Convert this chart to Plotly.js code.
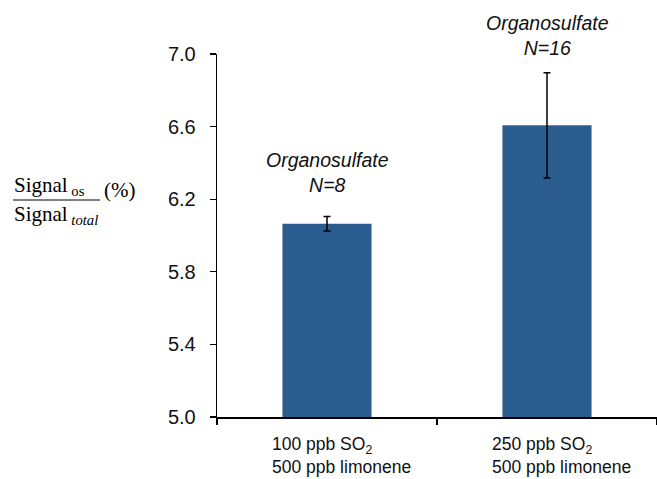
<!DOCTYPE html>
<html>
<head>
<meta charset="utf-8">
<script src="https://cdn.plot.ly/plotly-3.0.1.min.js"></script>
<style>
  html, body { margin: 0; padding: 0; background: #fff; }
  #chart { width: 657px; height: 479px; }
</style>
</head>
<body>
<div id="chart"></div>
<script>
// Experimental conditions (one bar each)
const categories = [
  '100 ppb SO<sub>2</sub><br>500 ppb limonene',
  '250 ppb SO<sub>2</sub><br>500 ppb limonene'
];
// Organosulfate share of total signal, in percent
const signalPct = [6.065, 6.607];
// Error bar half-widths
const errPct = [0.04, 0.29];
// Labels placed above each bar
const groupLabels = ['Organosulfate<br>N=8', 'Organosulfate<br>N=16'];
// Y axis ticks
const yTicks = [5.0, 5.4, 5.8, 6.2, 6.6, 7.0];

const SANS = 'Liberation Sans, Arial, sans-serif';
const SERIF = 'Liberation Serif, Times New Roman, serif';

const trace = {
  type: 'bar',
  x: categories,
  y: signalPct,
  width: 0.405,
  marker: { color: '#2A5C8F', line: { width: 0 } },
  error_y: {
    type: 'data',
    array: errPct,
    visible: true,
    color: '#000',
    thickness: 1.5,
    width: 3.5
  },
  hoverinfo: 'none'
};

// Group labels sit a little above each error bar
const labelLift = [18, 12];
const annotations = categories.map((c, i) => ({
  x: c, xref: 'x',
  y: signalPct[i] + errPct[i], yref: 'y',
  xanchor: 'center', yanchor: 'bottom',
  yshift: labelLift[i],
  text: '<i>' + groupLabels[i] + '</i>',
  showarrow: false,
  align: 'center',
  font: { family: SANS, size: 19.5, color: '#111' }
}));

// Category labels below the axis, left aligned as a block
categories.forEach((c) => {
  annotations.push({
    x: c, xref: 'x',
    y: 0, yref: 'paper',
    xanchor: 'left', yanchor: 'top',
    xshift: -57, yshift: -15,
    text: c,
    showarrow: false,
    align: 'left',
    font: { family: SANS, size: 17.5, color: '#111' }
  });
});

// Y axis title drawn as a fraction: Signal_os / Signal_total (%)
annotations.push(
  {
    x: 0, xref: 'paper', y: 0, yref: 'paper',
    xanchor: 'left', yanchor: 'middle',
    xshift: -205, yshift: 231,
    text: 'Signal<sub> os</sub>',
    showarrow: false,
    font: { family: SERIF, size: 21, color: '#000' }
  },
  {
    x: 0, xref: 'paper', y: 0, yref: 'paper',
    xanchor: 'left', yanchor: 'middle',
    xshift: -205, yshift: 202,
    text: 'Signal<sub> <i>total</i></sub>',
    showarrow: false,
    font: { family: SERIF, size: 21, color: '#000' }
  },
  {
    x: 0, xref: 'paper', y: 0, yref: 'paper',
    xanchor: 'left', yanchor: 'middle',
    xshift: -115, yshift: 227,
    text: '(%)',
    showarrow: false,
    font: { family: SERIF, size: 21, color: '#000' }
  }
);

const layout = {
  width: 657,
  height: 479,
  margin: { l: 217, r: 0, t: 54, b: 62, pad: 0 },
  paper_bgcolor: '#fff',
  plot_bgcolor: '#fff',
  showlegend: false,
  xaxis: {
    type: 'category',
    range: [-0.5, 1.5],
    showticklabels: false,
    tickson: 'boundaries',
    ticks: 'outside',
    ticklen: 6,
    tickwidth: 1.5,
    tickcolor: '#000',
    showline: true,
    linecolor: '#000',
    linewidth: 2,
    showgrid: false,
    zeroline: false,
    fixedrange: true
  },
  yaxis: {
    range: [5.0, 7.0],
    tickvals: yTicks,
    ticktext: yTicks.map(v => v.toFixed(1)),
    ticks: 'outside',
    ticklen: 6,
    tickwidth: 1.3,
    tickcolor: '#000',
    ticklabelstandoff: 10,
    showline: true,
    linecolor: '#000',
    linewidth: 1.3,
    showgrid: false,
    zeroline: false,
    tickfont: { family: SANS, size: 20, color: '#111' },
    fixedrange: true
  },
  shapes: [
    {
      type: 'line',
      xref: 'paper', xsizemode: 'pixel', xanchor: 0,
      x0: -204, x1: -117,
      yref: 'paper', ysizemode: 'pixel', yanchor: 0,
      y0: 217, y1: 217,
      line: { color: '#000', width: 1 }
    }
  ],
  annotations: annotations
};

Plotly.newPlot('chart', [trace], layout, { displayModeBar: false, staticPlot: true });
</script>
</body>
</html>
